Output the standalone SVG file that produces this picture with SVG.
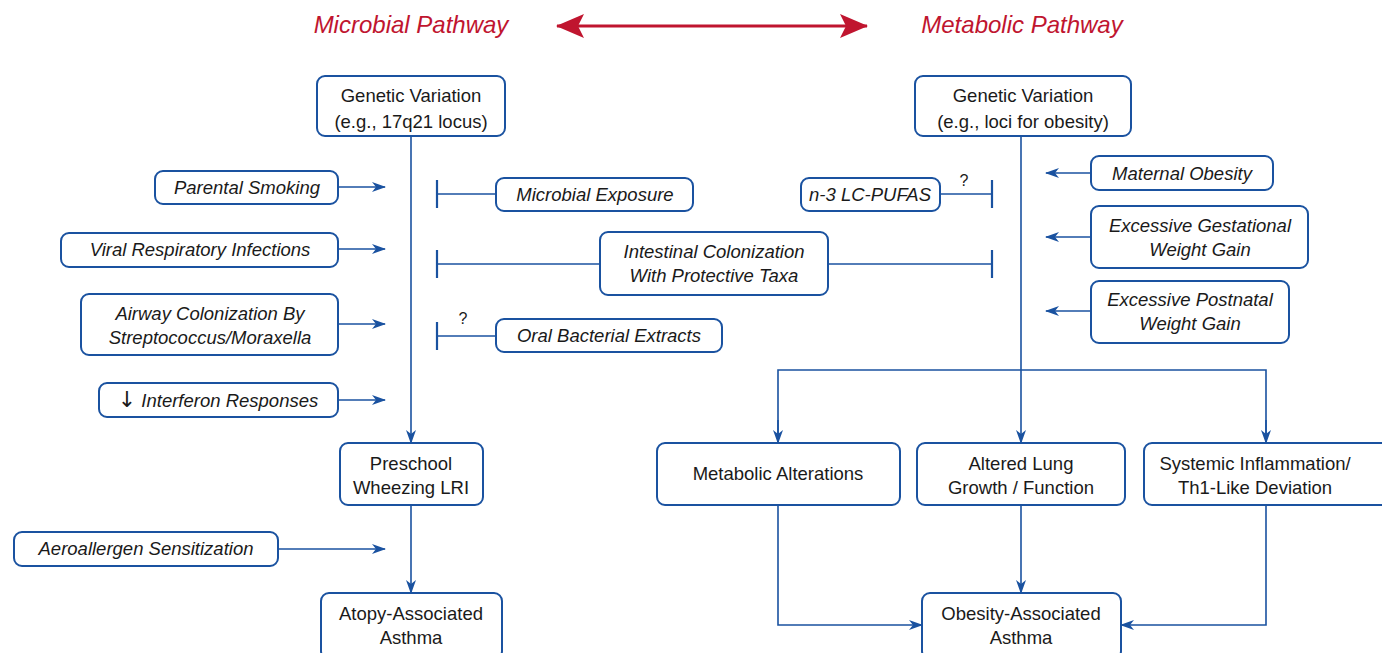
<svg xmlns="http://www.w3.org/2000/svg" width="1382" height="653" viewBox="0 0 1382 653">
<style>
.box{fill:#fff;stroke:#1a52a0;stroke-width:2}
.t{font-family:"Liberation Sans",Arial,sans-serif;font-size:18.5px;fill:#1a1a1a;text-anchor:middle}
.i{font-style:italic}
.title{font-family:"Liberation Sans",Arial,sans-serif;font-size:24px;font-style:italic;fill:#c0152f;text-anchor:middle}
.c{fill:none;stroke:#1a52a0;stroke-width:1.6}
.bar{fill:none;stroke:#1a52a0;stroke-width:2.2}
.q{font-family:"Liberation Sans",Arial,sans-serif;font-size:16px;fill:#1a1a1a;text-anchor:middle}
.dn{font-family:"DejaVu Sans",sans-serif;font-style:normal;font-size:22px;fill:#1a1a1a}
</style>
<defs>
<marker id="a" viewBox="0 0 14 10" refX="13" refY="5" markerWidth="14" markerHeight="10" markerUnits="userSpaceOnUse" orient="auto">
<path d="M0,0 L14,5 L0,10 L4,5 z" fill="#1a52a0"/>
</marker>
<marker id="r" viewBox="0 0 28 24" refX="27" refY="12" markerWidth="28" markerHeight="24" markerUnits="userSpaceOnUse" orient="auto-start-reverse">
<path d="M0,0 L28,12 L0,24 L6,12 z" fill="#c0152f"/>
</marker>
</defs>

<g id="titles">
<text class="title" x="411" y="33">Microbial Pathway</text>
<text class="title" x="1022" y="33">Metabolic Pathway</text>
<line x1="557" y1="26" x2="867" y2="26" stroke="#c0152f" stroke-width="3" marker-start="url(#r)" marker-end="url(#r)"/>
</g>

<g id="connectors">
<line class="c" x1="411" y1="136" x2="411" y2="443" marker-end="url(#a)"/>
<line class="c" x1="338" y1="187" x2="385" y2="187" marker-end="url(#a)"/>
<line class="c" x1="338" y1="249" x2="385" y2="249" marker-end="url(#a)"/>
<line class="c" x1="338" y1="324" x2="385" y2="324" marker-end="url(#a)"/>
<line class="c" x1="338" y1="400" x2="385" y2="400" marker-end="url(#a)"/>
<line class="c" x1="411" y1="505" x2="411" y2="593" marker-end="url(#a)"/>
<line class="c" x1="278" y1="549" x2="385" y2="549" marker-end="url(#a)"/>
<line class="c" x1="437" y1="194" x2="496" y2="194"/>
<line class="bar" x1="437" y1="180" x2="437" y2="208"/>
<line class="c" x1="437" y1="264" x2="600" y2="264"/>
<line class="c" x1="828" y1="264" x2="992" y2="264"/>
<line class="bar" x1="437" y1="250" x2="437" y2="278"/>
<line class="bar" x1="992" y1="250" x2="992" y2="278"/>
<line class="c" x1="437" y1="336" x2="496" y2="336"/>
<line class="bar" x1="437" y1="322" x2="437" y2="350"/>
<line class="c" x1="940" y1="194" x2="992" y2="194"/>
<line class="bar" x1="992" y1="180" x2="992" y2="208"/>
<line class="c" x1="1021" y1="136" x2="1021" y2="443" marker-end="url(#a)"/>
<line class="c" x1="1091" y1="173" x2="1046" y2="173" marker-end="url(#a)"/>
<line class="c" x1="1091" y1="237" x2="1046" y2="237" marker-end="url(#a)"/>
<line class="c" x1="1091" y1="311" x2="1046" y2="311" marker-end="url(#a)"/>
<polyline class="c" points="778,443 778,370 1266,370 1266,443"/>
<line class="c" x1="778" y1="420" x2="778" y2="443" marker-end="url(#a)"/>
<line class="c" x1="1266" y1="420" x2="1266" y2="443" marker-end="url(#a)"/>
<line class="c" x1="1021" y1="505" x2="1021" y2="593" marker-end="url(#a)"/>
<polyline class="c" points="778,505 778,625 922,625" marker-end="url(#a)"/>
<polyline class="c" points="1266,505 1266,625 1121,625" marker-end="url(#a)"/>
</g>

<g id="genetic-left"><rect class="box" x="317" y="76" width="188" height="60" rx="8"/>
<text class="t" x="411" y="102">Genetic Variation</text><text class="t" x="411" y="128">(e.g., 17q21 locus)</text></g>
<g id="genetic-right"><rect class="box" x="915" y="76" width="216" height="60" rx="8"/>
<text class="t" x="1023" y="102">Genetic Variation</text><text class="t" x="1023" y="128">(e.g., loci for obesity)</text></g>

<g id="parental-smoking"><rect class="box" x="155" y="171" width="183" height="33" rx="8"/>
<text class="t i" x="247" y="194">Parental Smoking</text></g>
<g id="viral"><rect class="box" x="61" y="233" width="277" height="34" rx="8"/>
<text class="t i" x="200" y="256">Viral Respiratory Infections</text></g>
<g id="airway"><rect class="box" x="81" y="294" width="257" height="61" rx="8"/>
<text class="t i" x="210" y="320">Airway Colonization By</text><text class="t i" x="210" y="344">Streptococcus/Moraxella</text></g>
<g id="interferon"><rect class="box" x="99" y="383" width="239" height="34" rx="8"/>
<text class="t i" x="218" y="407"><tspan class="dn">↓</tspan> Interferon Responses</text></g>

<g id="microbial-exposure"><rect class="box" x="496" y="178" width="197" height="33" rx="8"/>
<text class="t i" x="595" y="201">Microbial Exposure</text></g>
<g id="intestinal"><rect class="box" x="600" y="232" width="228" height="63" rx="8"/>
<text class="t i" x="714" y="258">Intestinal Colonization</text><text class="t i" x="714" y="282">With Protective Taxa</text></g>
<g id="oral"><rect class="box" x="496" y="319" width="226" height="33" rx="8"/>
<text class="t i" x="609" y="342">Oral Bacterial Extracts</text></g>
<text class="q" x="463" y="324">?</text>
<g id="pufas"><rect class="box" x="801" y="178" width="139" height="33" rx="8"/>
<text class="t i" x="870" y="201">n-3 LC-PUFAS</text></g>
<text class="q" x="964" y="186">?</text>

<g id="maternal"><rect class="box" x="1091" y="156" width="182" height="34" rx="8"/>
<text class="t i" x="1182" y="180">Maternal Obesity</text></g>
<g id="gestational"><rect class="box" x="1091" y="206" width="217" height="62" rx="8"/>
<text class="t i" x="1200" y="232">Excessive Gestational</text><text class="t i" x="1200" y="256">Weight Gain</text></g>
<g id="postnatal"><rect class="box" x="1091" y="281" width="198" height="62" rx="8"/>
<text class="t i" x="1190" y="306">Excessive Postnatal</text><text class="t i" x="1190" y="330">Weight Gain</text></g>

<g id="preschool"><rect class="box" x="340" y="443" width="143" height="62" rx="8"/>
<text class="t" x="411" y="470">Preschool</text><text class="t" x="411" y="494">Wheezing LRI</text></g>
<g id="aeroallergen"><rect class="box" x="14" y="532" width="264" height="34" rx="8"/>
<text class="t i" x="146" y="555">Aeroallergen Sensitization</text></g>
<g id="atopy"><rect class="box" x="321" y="593" width="181" height="66" rx="8"/>
<text class="t" x="411" y="620">Atopy-Associated</text><text class="t" x="411" y="644">Asthma</text></g>

<g id="metabolic-alterations"><rect class="box" x="657" y="443" width="243" height="62" rx="8"/>
<text class="t" x="778" y="480">Metabolic Alterations</text></g>
<g id="altered-lung"><rect class="box" x="917" y="443" width="208" height="62" rx="8"/>
<text class="t" x="1021" y="470">Altered Lung</text><text class="t" x="1021" y="494">Growth / Function</text></g>
<g id="systemic"><rect class="box" x="1144" y="443" width="245" height="62" rx="8"/>
<text class="t" x="1255" y="470">Systemic Inflammation/</text><text class="t" x="1255" y="494">Th1-Like Deviation</text></g>
<g id="obesity-asthma"><rect class="box" x="922" y="593" width="199" height="66" rx="8"/>
<text class="t" x="1021" y="620">Obesity-Associated</text><text class="t" x="1021" y="644">Asthma</text></g>
</svg>
